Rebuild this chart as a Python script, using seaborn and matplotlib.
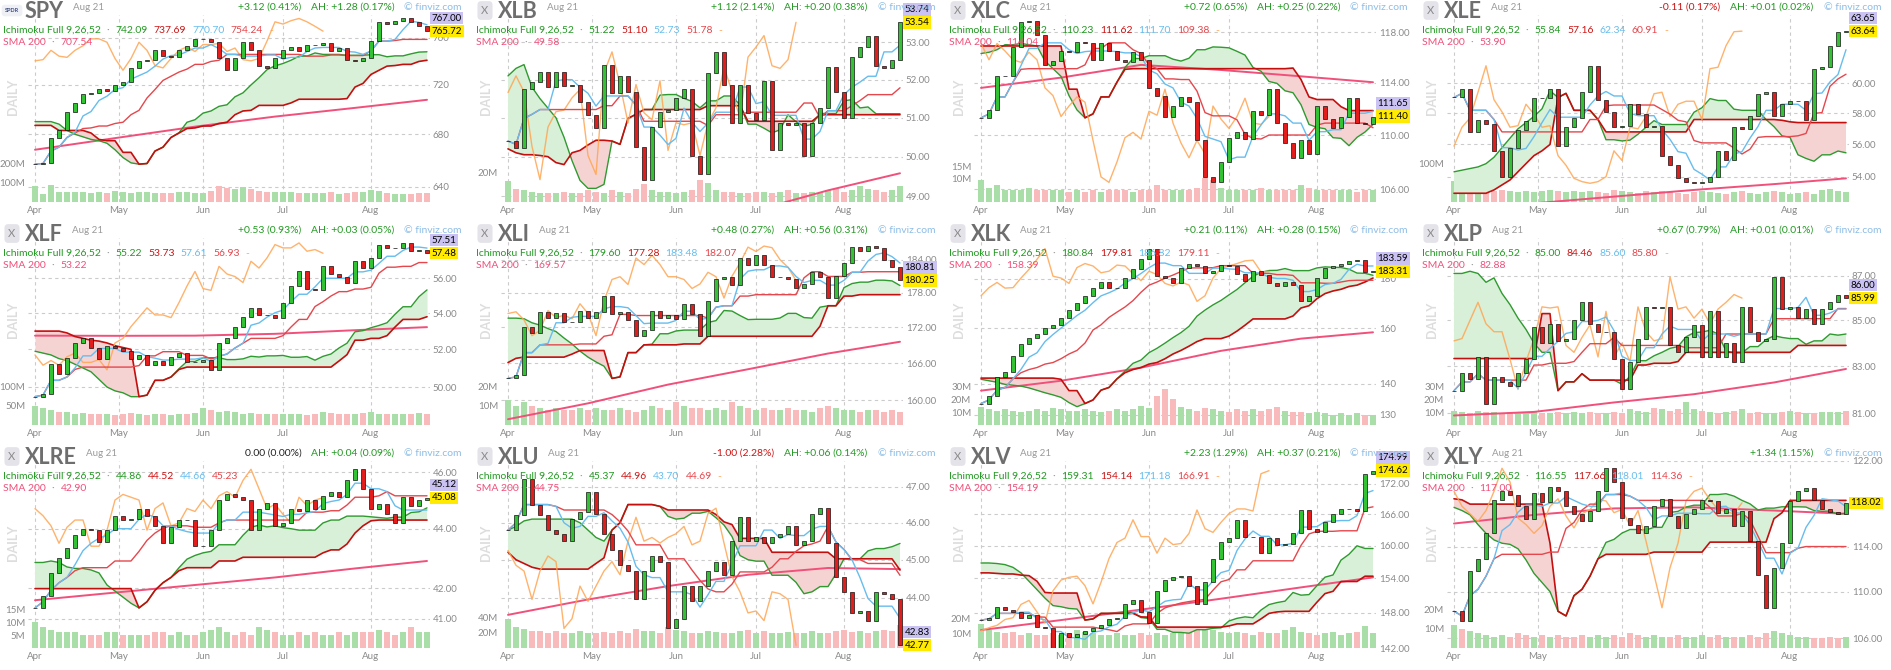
import numpy as np
import pandas as pd
import matplotlib
matplotlib.use("Agg")
import matplotlib.pyplot as plt
from matplotlib.ticker import NullLocator, NullFormatter
from matplotlib.transforms import offset_copy
import seaborn as sns

# ---------------- data (closes every 2nd trading day, Apr 1 .. Aug 21) ----------------
tickers = ["SPY", "XLB", "XLC", "XLE", "XLF", "XLI", "XLK", "XLP", "XLRE", "XLU", "XLV", "XLY"]
changes = ["+3.12 (0.41%)", "+1.12 (2.14%)", "+0.72 (0.65%)", "-0.11 (0.17%)",
           "+0.53 (0.93%)", "+0.48 (0.27%)", "+0.21 (0.11%)", "+0.67 (0.79%)",
           "0.00 (0.00%)", "-1.00 (2.28%)", "+2.23 (1.29%)", "+1.34 (1.15%)"]
after_hours = ["AH: +1.28 (0.17%)", "AH: +0.20 (0.38%)", "AH: +0.25 (0.22%)", "AH: +0.01 (0.02%)",
               "AH: +0.03 (0.05%)", "AH: +0.56 (0.31%)", "AH: +0.28 (0.15%)", "AH: +0.01 (0.01%)",
               "AH: +0.04 (0.09%)", "AH: +0.06 (0.14%)", "AH: +0.37 (0.21%)", ""]
ichimoku_labels = [["742.09", "737.69", "770.70", "754.24"], ["51.22", "51.10", "52.73", "51.78"],
                   ["110.23", "111.62", "111.70", "109.38"], ["55.84", "57.16", "62.34", "60.91"],
                   ["55.22", "53.73", "57.61", "56.93"], ["179.60", "177.28", "183.48", "182.07"],
                   ["180.84", "179.81", "186.82", "179.11"], ["85.00", "84.46", "85.60", "85.80"],
                   ["44.86", "44.52", "44.66", "45.23"], ["45.37", "44.96", "43.70", "44.69"],
                   ["159.31", "154.14", "171.18", "166.91"], ["116.55", "117.66", "118.01", "114.36"]]
sma_labels = ["707.54", "49.58", "114.04", "53.90", "53.22", "169.57",
              "158.39", "82.88", "42.90", "44.75", "154.19", "117.00"]
ah_prices = [767.00, 53.74, 111.65, 63.65, 57.51, 180.81, 183.59, 86.00, 45.12, 42.83, 174.99, None]

price_ticks = [[760, 720, 680, 640], [53, 52, 51, 50, 49], [118, 114, 110, 106], [60, 58, 56, 54],
               [56, 54, 52, 50], [184, 178, 172, 166, 160], [180, 160, 140, 130], [87, 85, 83, 81],
               [46, 44, 42, 41], [47, 46, 45, 44], [172, 166, 160, 154, 148, 142], [122, 114, 110, 106]]
tick_decimals = [0, 2, 2, 2, 2, 2, 0, 2, 2, 2, 2, 2]
vol_ticks = [[200, 100], [20], [15, 10], [100], [100, 50], [20, 10], [30, 20, 10], [30, 20, 10],
             [15, 10, 5], [40, 20], [20, 10], [20, 10]]

spy_close = [657, 658, 677, 683, 698, 705, 712, 713, 716, 715, 720, 722, 734, 740, 741, 749, 744, 743,
             749, 753, 759, 759, 756, 742, 732, 742, 756, 749, 736, 734, 742, 749, 752, 748, 754, 754,
             755, 748, 751, 741, 740, 742, 757, 774, 772, 775, 777, 774, 770, 765.72]
spy_volume = [85, 40, 88, 55, 55, 50, 50, 45, 50, 45, 60, 50, 45, 50, 50, 45, 45, 45, 50, 50, 45, 48, 60,
              85, 75, 70, 80, 70, 60, 55, 55, 50, 55, 45, 45, 45, 45, 50, 40, 45, 55, 50, 65, 60, 45, 40,
              40, 40, 45, 45]
spy_cloud_a0 = [690, 690, 690, 688, 683, 680, 678, 676, 675, 673, 668, 662, 658]
spy_cloud_b0 = [687, 687, 687, 683, 683, 683, 683, 681, 676, 675, 675, 666, 666]
spy_sma = [668, 677, 686, 694, 701, 707.54]

xlb_close = [50.4, 50.23, 51.74, 51.95, 52.2, 51.8, 52.2, 51.82, 51.87, 51.4, 51.08, 50.74, 52.4, 51.66,
             52.1, 51.68, 50.26, 49.42, 50.76, 51.16, 51.2, 51.52, 51.74, 50.03, 49.55, 52.18, 52.74,
             51.87, 50.87, 51.87, 51.13, 50.95, 51.97, 50.16, 50.87, 50.82, 50.87, 50.03, 50.87, 51.26,
             52.34, 51.68, 51.0, 52.6, 52.87, 53.18, 52.37, 52.3, 52.53, 53.54]
xlb_volume = [14, 9, 8, 7, 6, 6, 6, 7, 6, 6, 8, 7, 6, 8, 7, 6, 9, 12, 8, 7, 7, 6, 7, 8, 15, 13, 8, 7, 7,
              6, 6, 7, 7, 6, 7, 8, 6, 6, 7, 6, 8, 9, 7, 8, 11, 9, 8, 7, 8, 11]
xlb_cloud_a0 = [52.1, 52.3, 52.4, 51.8, 51.5, 51.25, 51.0, 50.5, 49.9, 49.4, 49.2, 49.2, 49.3]
xlb_cloud_b0 = [50.2, 50.1, 50.05, 50.05, 50.03, 50.0, 49.85, 49.8, 50.1, 50.16, 50.3, 50.42, 50.42]
xlb_sma = [47.0, 47.5, 48.1, 48.6, 49.15, 49.58]

xlc_close = [111.3, 111.9, 114.5, 114.5, 116.8, 118.8, 118.9, 117.8, 115.4, 115.7, 116.5, 116.4, 117.2,
             117.1, 115.8, 117.1, 116.5, 115.8, 115.6, 116.4, 115.8, 113.6, 113.0, 111.4, 112.2, 112.9,
             112.5, 109.6, 106.9, 106.5, 108.0, 109.8, 110.2, 109.7, 111.8, 111.5, 113.5, 110.9, 109.4,
             108.3, 109.6, 108.6, 112.2, 111.2, 110.5, 111.4, 112.8, 110.9, 110.8, 111.4]
xlc_volume = [9, 6, 7, 5, 5, 5, 6, 5, 5, 5, 5, 4, 5, 4, 5, 4, 5, 5, 5, 4, 5, 5, 7, 5, 5, 5, 5, 6, 10, 9,
              6, 5, 5, 5, 5, 6, 5, 5, 5, 5, 7, 6, 5, 5, 5, 5, 5, 4, 5, 5]
xlc_cloud_a0 = [116.3, 116.4, 116.6, 117.0, 117.0, 117.1, 117.0, 116.9, 115.7, 115.1, 114.5, 113.0, 111.9]
xlc_cloud_b0 = [116.9, 116.9, 116.9, 116.9, 116.9, 116.9, 116.9, 116.9, 116.9, 116.9, 116.9, 113.5, 113.5]
xlc_sma = [113.6, 114.4, 115.4, 115.0, 114.5, 114.04]

xle_close = [59.05, 59.6, 56.8, 57.6, 57.3, 55.6, 54.0, 55.8, 56.9, 57.5, 59.0, 59.0, 59.6, 55.9, 57.1,
             57.7, 59.4, 61.2, 58.9, 58.1, 57.1, 57.2, 58.6, 57.95, 57.1, 57.2, 55.3, 54.7, 53.9, 53.7,
             53.6, 53.7, 54.0, 55.6, 55.0, 57.1, 57.0, 57.8, 59.3, 59.4, 57.8, 58.6, 58.8, 58.8, 57.6,
             61.0, 61.1, 62.6, 63.6, 63.64]
xle_volume = [56, 42, 39, 35, 31, 28, 31, 28, 25, 28, 25, 28, 31, 28, 25, 28, 25, 28, 25, 24, 31, 28, 25,
              24, 28, 25, 28, 25, 24, 22, 25, 28, 25, 24, 22, 25, 28, 24, 22, 25, 28, 25, 22, 24, 25, 22,
              31, 35, 28, 25]
xle_cloud_a0 = [54.3, 54.4, 54.5, 54.6, 54.8, 55.2, 55.8, 56.4, 57.0, 57.4, 57.8, 58.3, 59.5]
xle_cloud_b0 = [53.0, 53.0, 53.0, 53.0, 53.0, 53.2, 53.5, 53.8, 54.3, 54.8, 55.3, 55.6, 56.0]
xle_sma = [52.0, 52.4, 52.8, 53.2, 53.55, 53.9]

xlf_close = [49.5, 49.66, 51.2, 50.7, 51.55, 52.35, 52.6, 52.07, 51.5, 52.2, 52.07, 51.9, 51.5, 51.7,
             51.15, 51.4, 51.15, 51.6, 51.8, 51.3, 51.3, 51.45, 50.9, 52.35, 52.6, 53.25, 53.77, 54.3,
             53.9, 53.9, 53.75, 54.6, 55.55, 56.4, 55.4, 55.3, 56.7, 56.25, 56.1, 55.75, 57.0, 56.6,
             57.2, 58.0, 57.8, 57.8, 58.1, 57.6, 57.7, 57.48]
xlf_volume = [50, 45, 40, 35, 35, 30, 32, 30, 28, 30, 26, 30, 32, 28, 27, 30, 28, 26, 30, 28, 32, 45, 40,
              35, 38, 35, 30, 32, 30, 30, 28, 30, 30, 28, 26, 30, 35, 32, 28, 30, 30, 32, 35, 30, 28, 30,
              28, 30, 32, 28]
xlf_cloud_a0 = [51.9, 51.8, 51.7, 51.5, 51.4, 51.2, 51.0, 50.8, 50.4, 50.0, 49.8, 49.7, 49.5]
xlf_cloud_b0 = [53.0, 53.0, 53.0, 53.0, 52.9, 52.7, 52.6, 52.5, 52.45, 52.35, 52.2, 52.1, 52.0]
xlf_sma = [52.75, 52.74, 52.75, 52.85, 53.05, 53.22]

xli_close = [163.5, 164.0, 172.0, 171.0, 174.6, 173.7, 174.5, 173.0, 172.9, 174.9, 173.7, 174.6, 177.5,
             174.4, 174.7, 173.3, 170.6, 171.5, 174.9, 173.7, 174.1, 173.5, 176.1, 174.4, 170.6, 176.6,
             180.4, 180.9, 179.5, 184.3, 183.1, 184.8, 183.1, 180.9, 180.9, 180.4, 178.8, 179.6, 181.7,
             180.9, 177.1, 181.0, 183.4, 186.3, 185.5, 186.5, 186.2, 184.0, 182.6, 180.25]
xli_volume = [13, 10, 12, 10, 9, 8, 9, 8, 8, 9, 8, 9, 8, 8, 9, 8, 7, 8, 10, 9, 8, 12, 10, 9, 9, 8, 9, 8,
              12, 10, 9, 8, 9, 8, 8, 9, 8, 8, 7, 9, 10, 9, 8, 8, 7, 8, 8, 7, 8, 7]
xli_cloud_a0 = [173.6, 173.6, 173.5, 172.8, 172.4, 171.8, 171.3, 170.2, 169.2, 168.0, 167.0, 166.2, 165.5]
xli_cloud_b0 = [166.1, 166.8, 167.0, 167.0, 167.0, 167.0, 167.0, 167.0, 167.5, 168.1, 168.1, 168.1, 168.1]
xli_sma = [157.0, 159.5, 162.5, 165.0, 167.6, 169.57]

xlk_close = [133.5, 135.8, 142.2, 144.0, 149.8, 154.0, 156.2, 157.6, 160.0, 161.1, 163.8, 167.2, 169.8,
             172.9, 176.3, 178.5, 176.1, 176.3, 180.4, 184.2, 188.7, 193.6, 181.2, 180.4, 178.1, 185.0,
             186.8, 185.7, 182.7, 183.4, 186.1, 185.7, 182.3, 179.3, 183.4, 181.9, 178.1, 177.0, 178.7,
             177.4, 170.6, 172.9, 180.4, 184.6, 185.7, 186.8, 188.0, 188.3, 183.1, 183.31]
xlk_volume = [14, 12, 11, 12, 11, 10, 11, 12, 11, 13, 12, 11, 11, 12, 11, 10, 11, 12, 11, 12, 15, 13, 22,
              28, 20, 14, 12, 11, 13, 12, 11, 10, 12, 11, 12, 11, 12, 14, 11, 10, 10, 9, 10, 9, 8, 9, 8,
              9, 8, 8]
xlk_cloud_a0 = [141.5, 141.0, 140.5, 139.8, 139.5, 139.2, 138.6, 137.8, 137.0, 136.3, 135.5, 133.8, 132.5]
xlk_cloud_b0 = [141.9, 141.9, 141.9, 141.9, 141.9, 141.9, 141.9, 141.9, 141.9, 141.9, 141.5, 137.7, 137.7]
xlk_sma = [137.7, 141.0, 145.5, 151.5, 156.0, 158.39]

xlp_close = [81.95, 82.7, 82.45, 83.4, 81.4, 82.55, 82.3, 82.15, 82.7, 83.3, 84.7, 84.0, 84.85, 84.1,
             84.2, 85.0, 85.8, 84.85, 84.5, 84.5, 83.3, 82.0, 83.2, 84.2, 85.6, 85.55, 85.6, 83.9, 83.6,
             84.25, 84.8, 83.4, 85.4, 83.4, 84.0, 83.2, 85.6, 84.5, 84.1, 84.2, 86.95, 85.5, 85.6, 85.1,
             85.5, 84.85, 85.5, 85.8, 86.15, 85.99]
xlp_volume = [11, 10, 9, 11, 10, 10, 9, 10, 10, 9, 10, 9, 9, 10, 9, 10, 9, 10, 9, 9, 10, 9, 12, 11, 10,
              13, 12, 11, 12, 18, 12, 11, 10, 9, 10, 11, 12, 9, 10, 9, 9, 10, 11, 10, 9, 9, 10, 10, 10, 11]
xlp_cloud_a0 = [87.1, 87.1, 87.2, 87.1, 86.7, 86.9, 86.2, 85.7, 85.1, 84.6, 84.0, 83.6, 83.6]
xlp_cloud_b0 = [83.33, 83.33, 83.33, 83.33, 83.33, 83.33, 83.33, 83.33, 83.33, 83.33, 83.33, 85.3, 85.3]
xlp_sma = [80.9, 81.05, 81.45, 81.8, 82.3, 82.88]

xlre_close = [41.35, 41.75, 42.5, 43.0, 43.35, 43.8, 44.0, 43.95, 43.55, 43.95, 44.45, 44.3, 44.35, 44.7,
              44.45, 44.1, 43.5, 44.05, 44.3, 44.3, 43.4, 43.4, 43.95, 45.0, 45.2, 45.1, 45.0, 43.95,
              44.7, 44.9, 44.1, 44.2, 44.7, 44.6, 45.0, 44.7, 45.15, 45.3, 45.1, 45.7, 46.1, 45.4, 44.7,
              44.85, 44.5, 44.2, 45.1, 44.8, 45.0, 45.08]
xlre_volume = [10, 8, 7, 6, 6, 6, 5, 5, 5, 6, 6, 5, 5, 5, 5, 6, 6, 5, 6, 5, 5, 6, 7, 8, 6, 5, 6, 5, 8, 7,
               6, 5, 5, 6, 5, 6, 5, 5, 6, 5, 6, 6, 6, 7, 6, 5, 6, 8, 6, 6]
xlre_cloud_a0 = [42.85, 42.85, 42.9, 42.85, 42.7, 42.65, 42.65, 42.6, 42.5, 42.1, 41.9, 41.7, 41.5]
xlre_cloud_b0 = [41.98, 41.98, 41.98, 41.98, 41.98, 41.98, 41.98, 41.98, 41.98, 41.98, 41.98, 41.98, 41.98]
xlre_sma = [41.6, 41.85, 42.1, 42.35, 42.65, 42.9]

xlu_close = [45.8, 46.2, 47.2, 46.5, 46.2, 45.8, 45.7, 45.5, 46.1, 46.3, 46.85, 46.25, 45.7, 45.25,
             44.85, 44.7, 43.95, 44.7, 45.1, 44.95, 43.2, 43.45, 44.3, 43.9, 44.3, 44.7, 44.95, 44.6,
             45.5, 46.15, 45.5, 45.6, 45.45, 45.6, 45.7, 45.9, 45.4, 45.5, 46.25, 46.4, 45.45, 44.55,
             44.15, 43.6, 43.65, 43.4, 44.15, 44.1, 43.95, 42.77]
xlu_volume = [38, 28, 25, 22, 22, 20, 22, 20, 20, 22, 20, 20, 21, 20, 22, 20, 25, 22, 22, 20, 28, 24, 22,
              20, 20, 22, 21, 20, 20, 22, 24, 20, 22, 20, 20, 21, 20, 20, 22, 20, 20, 22, 24, 21, 22, 20,
              22, 24, 22, 30]
xlu_cloud_a0 = [45.8, 45.9, 46.05, 46.1, 46.1, 46.1, 46.1, 46.1, 46.1, 46.0, 45.8, 45.6, 45.5]
xlu_cloud_b0 = [45.2, 45.0, 44.9, 44.8, 44.75, 44.75, 44.75, 44.75, 44.75, 44.75, 44.75, 44.9, 45.05]
xlu_sma = [43.55, 43.95, 44.3, 44.6, 44.78, 44.75]

xlv_close = [146.7, 147.1, 149.0, 148.5, 148.1, 147.1, 147.5, 145.5, 145.4, 142.0, 144.5, 143.9, 144.3,
             144.9, 145.4, 145.8, 146.8, 147.1, 149.4, 150.1, 148.1, 146.2, 151.8, 153.7, 154.2, 154.4,
             152.7, 149.5, 153.3, 157.6, 160.6, 161.4, 164.9, 161.7, 161.7, 158.6, 161.4, 160.2, 160.4,
             162.3, 166.8, 163.2, 162.5, 164.4, 166.1, 167.0, 167.0, 166.6, 174.0, 174.62]
xlv_volume = [16, 12, 11, 10, 11, 9, 10, 9, 9, 10, 9, 10, 12, 11, 10, 9, 9, 10, 9, 9, 10, 9, 10, 9, 10,
              11, 12, 14, 13, 12, 11, 10, 11, 10, 9, 11, 10, 10, 12, 14, 11, 10, 9, 10, 11, 9, 10, 11, 15, 10]
xlv_cloud_a0 = [156.8, 156.8, 156.7, 156.5, 156.0, 155.0, 153.5, 152.0, 150.5, 149.2, 149.0, 148.7, 148.6]
xlv_cloud_b0 = [155.0, 155.0, 154.9, 154.8, 154.8, 154.6, 154.5, 153.5, 151.5, 151.4, 151.4, 151.4, 151.4]
xlv_sma = [145.0, 146.7, 148.5, 150.4, 152.4, 154.19]

xly_close = [108.3, 107.5, 111.8, 112.9, 115.2, 118.3, 119.1, 118.8, 117.7, 116.5, 118.9, 118.1, 119.5,
             119.1, 117.7, 117.0, 116.3, 117.3, 119.1, 121.3, 120.0, 116.6, 116.0, 115.2, 115.9, 117.7,
             118.4, 116.8, 115.7, 117.0, 117.4, 118.3, 118.2, 117.1, 117.4, 115.9, 117.3, 114.5, 111.5,
             108.6, 112.1, 114.3, 118.2, 119.1, 119.4, 118.3, 117.4, 117.2, 117.0, 118.02]
xly_volume = [12, 10, 9, 8, 7, 6, 7, 6, 8, 7, 6, 7, 6, 7, 6, 6, 7, 6, 7, 6, 7, 6, 8, 7, 6, 7, 6, 6, 7, 6,
              6, 7, 6, 7, 6, 6, 6, 7, 6, 8, 9, 8, 7, 6, 6, 5, 5, 6, 5, 6]
xly_cloud_a0 = [117.6, 117.3, 116.9, 116.0, 115.2, 114.6, 114.3, 114.2, 113.8, 112.8, 111.6, 110.8, 110.0]
xly_cloud_b0 = [118.4, 118.3, 117.9, 117.9, 117.9, 117.9, 117.9, 117.9, 117.9, 117.9, 117.9, 117.9, 114.3]
xly_sma = [116.1, 116.9, 117.5, 117.6, 117.3, 117.0]

closes = [spy_close, xlb_close, xlc_close, xle_close, xlf_close, xli_close,
          xlk_close, xlp_close, xlre_close, xlu_close, xlv_close, xly_close]
volumes = [spy_volume, xlb_volume, xlc_volume, xle_volume, xlf_volume, xli_volume,
           xlk_volume, xlp_volume, xlre_volume, xlu_volume, xlv_volume, xly_volume]
clouds_a0 = [spy_cloud_a0, xlb_cloud_a0, xlc_cloud_a0, xle_cloud_a0, xlf_cloud_a0, xli_cloud_a0,
             xlk_cloud_a0, xlp_cloud_a0, xlre_cloud_a0, xlu_cloud_a0, xlv_cloud_a0, xly_cloud_a0]
clouds_b0 = [spy_cloud_b0, xlb_cloud_b0, xlc_cloud_b0, xle_cloud_b0, xlf_cloud_b0, xli_cloud_b0,
             xlk_cloud_b0, xlp_cloud_b0, xlre_cloud_b0, xlu_cloud_b0, xlv_cloud_b0, xly_cloud_b0]
smas = [spy_sma, xlb_sma, xlc_sma, xle_sma, xlf_sma, xli_sma,
        xlk_sma, xlp_sma, xlre_sma, xlu_sma, xlv_sma, xly_sma]

# ---------------- layout / style ----------------
price_limits = [(629.0, 780.1), (48.86, 53.74), (105.08, 119.40), (52.48, 64.81),
                (48.06, 58.40), (156.1, 188.0), (126.8, 198.6), (80.50, 88.72),
                (40.07, 46.40), (42.70, 47.72), (142.0, 176.6), (105.19, 122.0)]
vol_tops = [984, 125, 78, 492, 492, 98, 144, 144, 72, 249, 125, 98]

sns.set_theme(style="white")
plt.rcParams["font.family"] = ["Lato", "DejaVu Sans"]

W, H = 1891, 670
PW, PH = 473, 223
GRID = "#cbcbcb"
TXT = "#8a8a8a"
G_TXT = "#229922"
R_TXT = "#cc1414"
BLUE = "#66bdee"
BASE_C = "#e5474d"
SPANB_C = "#c40f0f"
SPANA_C = "#2f9a2f"
LAG_C = "#ffa552"
SMA_C = "#f0507a"
CLOUD_G = "#d8efd8"
CLOUD_R = "#f6d3d3"
UP_C = "#33c233"
DN_C = "#e31c1c"
VOL_UP = "#a9dea9"
VOL_DN = "#f8baba"

bar_pos = np.arange(50) * 2 + 1          # trading-day index (Mar 31 = 0)
sma_pos = bar_pos[[0, 10, 20, 30, 40, 49]]
month_pos = [1, 22, 43, 63, 85]
month_names = ["Apr", "May", "Jun", "Jul", "Aug"]


def ichimoku(close, a0, b0):
    s = pd.Series(close)

    def mid(n):
        return (s.rolling(n, min_periods=1).max() + s.rolling(n, min_periods=1).min()) / 2

    conv = mid(5)
    base = mid(13)
    span_a = ((conv + base) / 2).shift(13).to_numpy()
    span_b = mid(26).shift(13).to_numpy()
    span_a[:13] = a0
    span_b[:13] = b0
    return conv.to_numpy(), base.to_numpy(), span_a, span_b


fig = plt.figure(figsize=(W / 100, H / 100), dpi=100)
fig.patch.set_facecolor("white")
renderer = fig.canvas.get_renderer()


def put(x, y, s, color, size, weight="normal", ha="left"):
    t = fig.text(x / W, 1 - y / H, s, color=color, fontsize=size, fontweight=weight,
                 ha=ha, va="baseline")
    return t.get_window_extent(renderer).width


def row_left(x, y, parts, size, gap):
    for s, col in parts:
        x += put(x, y, s, col, size) + gap


def row_right(x, y, parts, size, gap):
    for s, col in reversed(parts):
        if s:
            x -= put(x, y, s, col, size, ha="right") + gap


for i, tk in enumerate(tickers):
    r, c = divmod(i, 4)
    X0, Y0 = c * PW, r * PH
    close = np.array(closes[i], float)
    opens = np.r_[close[0], close[:-1]]
    up = close >= opens
    vol = np.array(volumes[i], float)
    lo, hi = price_limits[i]

    ax_v = fig.add_axes([(X0 + 28) / W, 1 - (Y0 + 202) / H, 402 / W, 187 / H])
    ax_p = ax_v.twinx()
    ax_v.set_xlim(-0.75, 99.75)
    ax_v.set_ylim(0, vol_tops[i])

    # dashed grid (under everything)
    for m in month_pos:
        ax_v.axvline(m, color=GRID, lw=0.8, ls=(0, (3, 3)), zorder=0)
    for t in price_ticks[i]:
        frac = (np.log(t) - np.log(lo)) / (np.log(hi) - np.log(lo))
        ax_v.axhline(frac * vol_tops[i], color=GRID, lw=0.8, ls=(0, (3, 3)), zorder=0)

    ax_v.bar(bar_pos, vol, width=1.5, color=np.where(up, VOL_UP, VOL_DN), linewidth=0, zorder=1)

    conv, base, span_a, span_b = ichimoku(close, clouds_a0[i], clouds_b0[i])
    ax_p.fill_between(bar_pos, span_a, span_b, where=span_a >= span_b, interpolate=True,
                      color=CLOUD_G, lw=0, zorder=1)
    ax_p.fill_between(bar_pos, span_a, span_b, where=span_a < span_b, interpolate=True,
                      color=CLOUD_R, lw=0, zorder=1)
    sns.lineplot(x=sma_pos, y=np.array(smas[i]), ax=ax_p, color=SMA_C, lw=1.4, zorder=2)
    sns.lineplot(x=bar_pos, y=span_a, ax=ax_p, color=SPANA_C, lw=1.0, zorder=2)
    sns.lineplot(x=bar_pos, y=span_b, ax=ax_p, color=SPANB_C, lw=1.2, zorder=2)
    sns.lineplot(x=bar_pos[:37], y=close[13:], ax=ax_p, color=LAG_C, lw=1.0, alpha=0.85, zorder=3)
    sns.lineplot(x=bar_pos, y=base, ax=ax_p, color=BASE_C, lw=1.0, zorder=3)
    sns.lineplot(x=bar_pos, y=conv, ax=ax_p, color=BLUE, lw=1.0, zorder=3)

    ax_p.bar(bar_pos, np.abs(close - opens), bottom=np.minimum(close, opens), width=1.1,
             color=np.where(up, UP_C, DN_C), edgecolor="#111111", linewidth=0.5, zorder=4)

    ax_p.set_yscale("log")
    ax_p.set_ylim(lo, hi)
    ax_p.set_xlim(-0.75, 99.75)
    fmt = "{:.0f}" if tick_decimals[i] == 0 else "{:.2f}"
    ax_p.set_yticks(price_ticks[i])
    ax_p.set_yticklabels([fmt.format(t) for t in price_ticks[i]])
    ax_p.yaxis.set_minor_locator(NullLocator())
    ax_p.yaxis.set_minor_formatter(NullFormatter())
    ax_p.tick_params(axis="y", length=0, pad=2, labelsize=7, labelcolor=TXT)
    ax_p.set_xlabel("")
    ax_p.set_ylabel("")

    ax_v.set_yticks(vol_ticks[i])
    ax_v.set_yticklabels([f"{v}M" for v in vol_ticks[i]])
    ax_v.set_xticks(month_pos)
    ax_v.set_xticklabels(month_names)
    ax_v.tick_params(axis="y", length=0, pad=2, labelsize=7, labelcolor=TXT)
    ax_v.tick_params(axis="x", length=0, pad=3, labelsize=7, labelcolor=TXT)
    for ax in (ax_v, ax_p):
        ax.grid(False)
        for sp in ax.spines.values():
            sp.set_visible(False)

    # last price / after-hours boxes
    trans = ax_p.get_yaxis_transform()
    box = dict(boxstyle="square,pad=0.18", ec="none")
    ax_p.text(1.004, close[-1], f"{close[-1]:.2f}", transform=trans, ha="left", va="center",
              fontsize=7, color="black", bbox=dict(box, fc="#ffea00"), zorder=10, clip_on=False)
    if ah_prices[i] is not None:
        ax_p.text(1.004, close[-1], f"{ah_prices[i]:.2f}",
                  transform=offset_copy(trans, fig=fig, y=13, units="dots"), ha="left", va="center",
                  fontsize=7, color="black", bbox=dict(box, fc="#c9c2f2"), zorder=10, clip_on=False)

    # header
    if tk == "SPY":
        fig.text((X0 + 12) / W, 1 - (Y0 + 10.5) / H, "SPDR", fontsize=4, fontweight="bold",
                 color="#3a4a7a", ha="center", va="center",
                 bbox=dict(boxstyle="round,pad=0.6", fc="#eef0f6", ec="none"))
    else:
        fig.text((X0 + 12) / W, 1 - (Y0 + 10.5) / H, "X", fontsize=8, color="#8a8a8a",
                 ha="center", va="center",
                 bbox=dict(boxstyle="round,pad=0.35", fc="#e3e3e9", ec="none"))
    wt = put(X0 + 25, Y0 + 18, tk, "#6e6e6e", 15.5, weight="bold")
    put(X0 + 25 + wt + 9, Y0 + 10, "Aug 21", "#9a9a9a", 7)

    ch = changes[i]
    ch_col = G_TXT if ch.startswith("+") else (R_TXT if ch.startswith("-") else "#222222")
    row_right(X0 + 462, Y0 + 10, [(ch, ch_col), (after_hours[i], G_TXT), ("© finviz.com", "#8dbde6")],
              7.5, 10)

    v = ichimoku_labels[i]
    row_left(X0 + 3, Y0 + 33, [("Ichimoku Full 9,26,52", G_TXT), ("·", "#999999"), (v[0], G_TXT),
                               (v[1], R_TXT), (v[2], BLUE), (v[3], BASE_C), ("-", LAG_C)], 7.5, 6)
    row_left(X0 + 3, Y0 + 45, [("SMA 200", SMA_C), ("·", "#999999"), (sma_labels[i], SMA_C)], 7.5, 6)

    fig.text((X0 + 13) / W, 1 - (Y0 + 97) / H, "DAILY", rotation=90, fontsize=9, fontweight="bold",
             color="#dddddd", ha="center", va="center")

fig.savefig("out.png", dpi=100)
